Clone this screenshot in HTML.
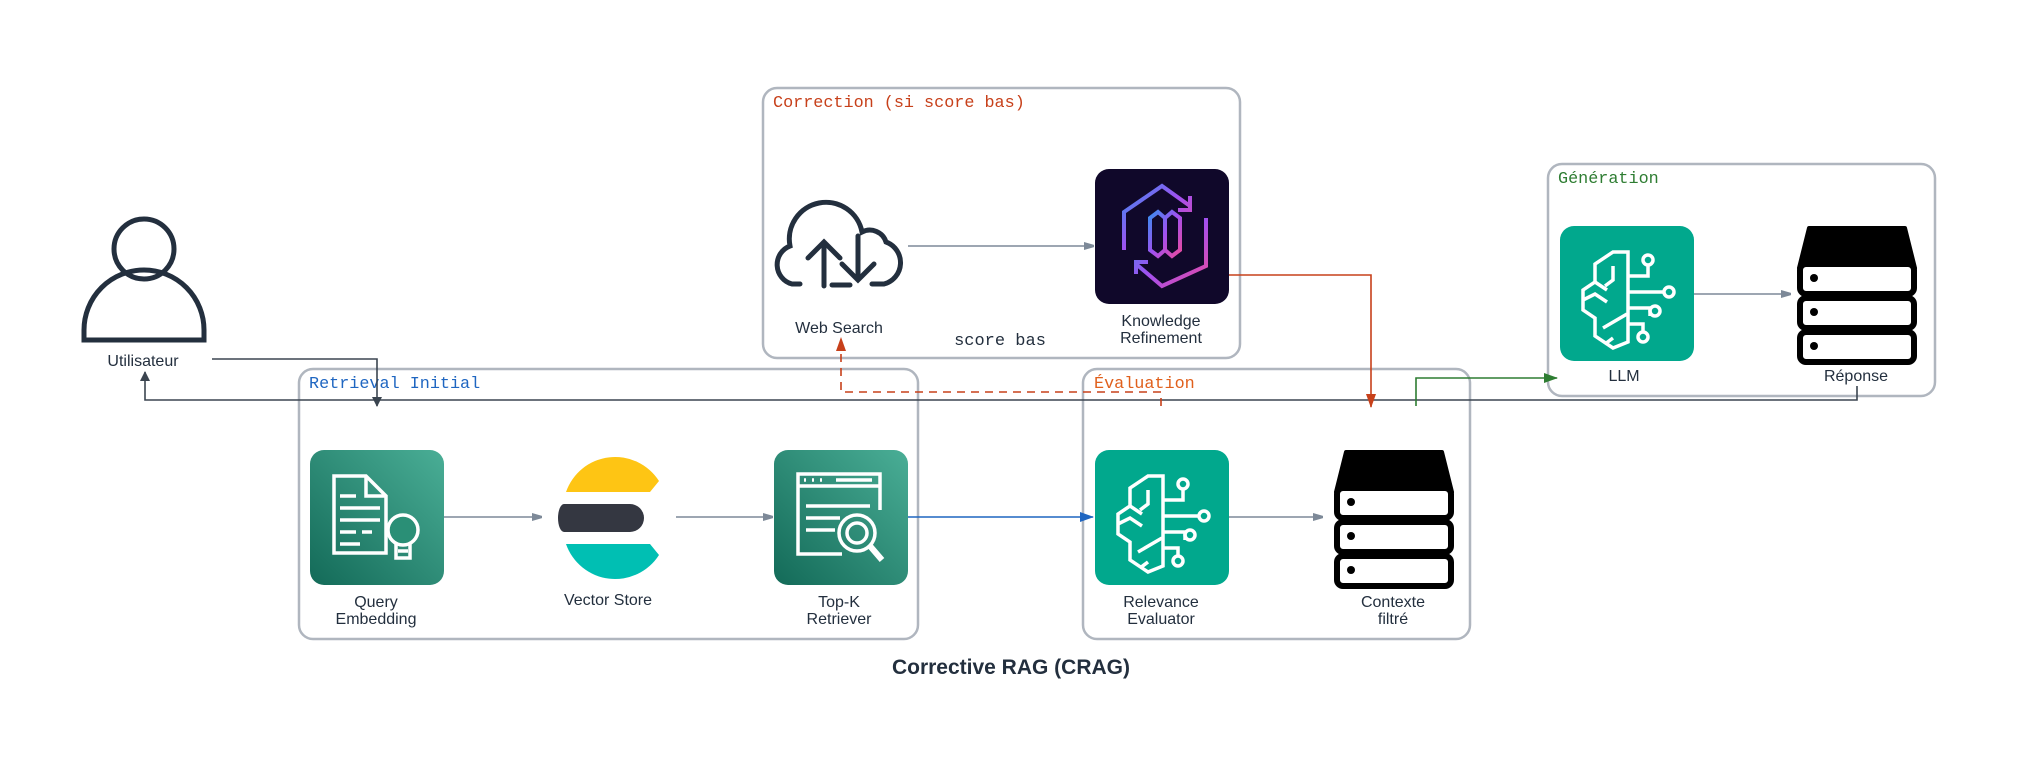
<!DOCTYPE html>
<html><head><meta charset="utf-8"><style>
body{margin:0;background:#fff}
svg text{font-family:"Liberation Sans",sans-serif}
.m{font-family:"Liberation Mono",monospace}
</style></head><body>
<svg width="2023" height="762" xmlns="http://www.w3.org/2000/svg">
<defs>
<marker id="ag" markerWidth="10" markerHeight="8" refX="9" refY="4" orient="auto" markerUnits="userSpaceOnUse"><path d="M0,0 L14,4 L0,8z" fill="#7d8998"/></marker>
<marker id="ad" markerWidth="10" markerHeight="10" refX="9" refY="5" orient="auto" markerUnits="userSpaceOnUse"><path d="M0,0 L10,5 L0,10z" fill="#3b4550"/></marker>
<marker id="ab" markerWidth="14" markerHeight="10" refX="13" refY="5" orient="auto" markerUnits="userSpaceOnUse"><path d="M0,0 L14,5 L0,10z" fill="#1f66c1"/></marker>
<marker id="ar" markerWidth="14" markerHeight="10" refX="13" refY="5" orient="auto" markerUnits="userSpaceOnUse"><path d="M0,0 L14,5 L0,10z" fill="#c7401a"/></marker>
<marker id="agr" markerWidth="14" markerHeight="10" refX="13" refY="5" orient="auto" markerUnits="userSpaceOnUse"><path d="M0,0 L14,5 L0,10z" fill="#2e7d32"/></marker>
<linearGradient id="tg" x1="0" y1="1" x2="1" y2="0"><stop offset="0" stop-color="#136a58"/><stop offset="1" stop-color="#4aae96"/></linearGradient>
<linearGradient id="kg" x1="0" y1="0" x2="1" y2="1"><stop offset="0" stop-color="#3a8cf0"/><stop offset="0.5" stop-color="#a150f0"/><stop offset="1" stop-color="#e84aa0"/></linearGradient>
</defs>

<g fill="none" stroke="#b0b6bf" stroke-width="2.5">
<rect x="763" y="88" width="477" height="270" rx="14"/>
<rect x="299" y="369" width="619" height="270" rx="14"/>
<rect x="1083" y="369" width="387" height="270" rx="14"/>
<rect x="1548" y="164" width="387" height="232" rx="14"/>
</g>
<text class="m" x="773" y="107" font-size="16.8" fill="#c7401a">Correction (si score bas)</text>
<text class="m" x="309" y="388" font-size="16.8" fill="#1f66c1">Retrieval Initial</text>
<text class="m" x="1094" y="388" font-size="16.8" fill="#e0601c">Évaluation</text>
<text class="m" x="1558" y="183" font-size="16.8" fill="#2e7d32">Génération</text>

<g fill="none" stroke-width="1.6">
<path d="M212,359 H377 V406" stroke="#3b4550" marker-end="url(#ad)"/>
<path d="M1857,386 V400 H145 V372" stroke="#3b4550" marker-end="url(#ad)"/>
<path d="M444,517 H541" stroke="#7d8998" marker-end="url(#ag)"/>
<path d="M676,517 H772" stroke="#7d8998" marker-end="url(#ag)"/>
<path d="M908,517 H1093" stroke="#1f66c1" marker-end="url(#ab)"/>
<path d="M1229,517 H1322" stroke="#7d8998" marker-end="url(#ag)"/>
<path d="M1693,294 H1790" stroke="#7d8998" marker-end="url(#ag)"/>
<path d="M908,246 H1093" stroke="#7d8998" marker-end="url(#ag)"/>
<path d="M1229,275 H1371 V407" stroke="#c7401a" marker-end="url(#ar)"/>
<path d="M1161,406 V392 H841 V338" stroke="#c7401a" stroke-dasharray="8,6" marker-end="url(#ar)"/>
<path d="M1416,406 V378 H1557" stroke="#2e7d32" marker-end="url(#agr)"/>
</g>

<g fill="none" stroke="#232f3e" stroke-width="5">
<circle cx="144" cy="249" r="30"/>
<path d="M84,340 V330 A60,60 0 0 1 204,330 V340 Z"/>
</g>

<g fill="none" stroke="#232f3e" stroke-width="5" stroke-linecap="round">
<path d="M800,284 H792 A20,20 0 0 1 790,246 A35,35 0 0 1 862,232 A17,17 0 0 1 886,242 A22,22 0 0 1 884,284 H872"/>
<path d="M824,286 V244 M808,258 L824,242 L840,258"/>
<path d="M858,236 V278 M842,264 L858,280 L874,264"/>
<path d="M832,285 H850"/>
</g>

<rect x="1095" y="169" width="134" height="135" rx="14" fill="#10082a"/>
<g fill="none" stroke="url(#kg)" stroke-width="4">
<path d="M1124,250 V212 L1162,186 L1190,206 M1190,196 V210 H1178"/>
<path d="M1206,218 V266 L1162,286 L1136,264 M1136,274 V262 H1148"/>
<path d="M1150,218 L1158,212 L1165,218 L1172,212 L1180,218 V250 L1172,256 L1165,250 L1158,256 L1150,250 Z M1165,218 V250"/>
</g>

<rect x="310" y="450" width="134" height="135" rx="14" fill="url(#tg)"/>
<g fill="none" stroke="#fff" stroke-width="3.5">
<path d="M334,553 V476 H366 L386,496 V553 Z M366,476 V496 H386"/>
<path d="M340,496 H356 M340,508 H380 M340,520 H380 M340,532 H356 M362,532 H372 M340,544 H360"/>
<circle cx="403" cy="530" r="15" fill="#2a8f76"/>
<path d="M396,544 V558 H410 V544 M398,551 H408"/>
</g>

<path d="M566,492 A52,52 0 0 1 659,481 L650,492 Z" fill="#fec514"/>
<path d="M564,504 H630 A14,14 0 0 1 630,532 H564 A6,14 0 0 1 564,504 Z" fill="#343741"/>
<path d="M566,544 H650 L659,555 A52,52 0 0 1 566,544 Z" fill="#00bfb3"/>

<rect x="774" y="450" width="134" height="135" rx="14" fill="url(#tg)"/>
<g fill="none" stroke="#fff" stroke-width="3.5">
<path d="M842,554 H798 V474 H880 V510"/>
<path d="M798,486 H880 M804,480 H806 M812,480 H814 M820,480 H822 M836,480 H872"/>
<path d="M806,506 H870 M806,518 H840 M806,530 H835"/>
<circle cx="857" cy="533" r="18"/><circle cx="857" cy="533" r="10"/>
<path d="M870,546 L882,560" stroke-width="6"/>
</g>

<g id="brain">
<rect x="1095" y="450" width="134" height="135" rx="14" fill="#01a88d"/>
<g fill="none" stroke="#fff" stroke-width="3.5">
<path d="M1163,476 V566 L1148,572 L1130,560 V542 L1118,534 V514 L1130,506 V488 L1148,476 Z"/>
<path d="M1163,500 H1183 V488 M1163,516 H1199 M1163,532 H1185 V540 M1163,548 H1178 V556"/>
<circle cx="1183" cy="484" r="5"/><circle cx="1204" cy="516" r="5"/><circle cx="1190" cy="535" r="5"/><circle cx="1178" cy="561" r="5"/>
<path d="M1130,506 L1142,514 M1118,524 L1130,518 L1142,526 M1148,490 V504 L1140,510 M1138,552 L1162,538 M1148,562 L1140,568"/>
</g>
</g>
<use href="#brain" x="465" y="-224"/>

<g id="srv">
<path d="M1346,452 H1442 L1452,492 H1336 Z" fill="#000" stroke="#000" stroke-width="4" stroke-linejoin="round"/>
<rect x="1337" y="488" width="114" height="30" rx="6" fill="#fff" stroke="#000" stroke-width="6"/>
<rect x="1337" y="522" width="114" height="30" rx="6" fill="#fff" stroke="#000" stroke-width="6"/>
<rect x="1337" y="556" width="114" height="30" rx="6" fill="#fff" stroke="#000" stroke-width="6"/>
<circle cx="1351" cy="502" r="4" fill="#000"/><circle cx="1351" cy="536" r="4" fill="#000"/><circle cx="1351" cy="570" r="4" fill="#000"/>
</g>
<use href="#srv" x="463" y="-224"/>

<g font-size="16" fill="#232f3e" text-anchor="middle">
<text x="143" y="366">Utilisateur</text>
<text x="839" y="333">Web Search</text>
<text x="1161" y="326">Knowledge</text><text x="1161" y="343">Refinement</text>
<text x="376" y="607">Query</text><text x="376" y="624">Embedding</text>
<text x="608" y="605">Vector Store</text>
<text x="839" y="607">Top-K</text><text x="839" y="624">Retriever</text>
<text x="1161" y="607">Relevance</text><text x="1161" y="624">Evaluator</text>
<text x="1393" y="607">Contexte</text><text x="1393" y="624">filtré</text>
<text x="1624" y="381">LLM</text>
<text x="1856" y="381">Réponse</text>
</g>
<text class="m" x="1000" y="345" font-size="17" fill="#232f3e" text-anchor="middle">score bas</text>
<text x="1011" y="674" font-size="21" font-weight="bold" fill="#232f3e" text-anchor="middle">Corrective RAG (CRAG)</text>
</svg>
</body></html>
